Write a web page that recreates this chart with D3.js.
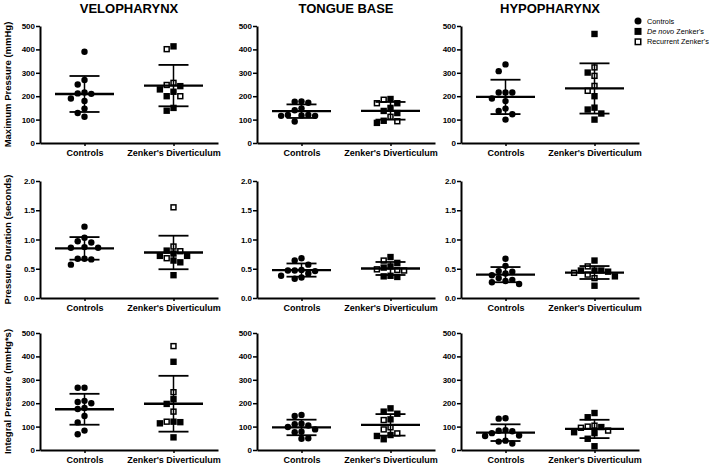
<!DOCTYPE html>
<html>
<head>
<meta charset="utf-8">
<script src="https://cdn.jsdelivr.net/npm/d3@7"></script>
<style>
body { margin: 0; background: #fff; }
svg { display: block; font-family: "Liberation Sans", Arial, sans-serif; }
</style>
</head>
<body>
<svg id="svg"></svg>
<script>
const regions = ["VELOPHARYNX", "TONGUE BASE", "HYPOPHARYNX"];
const measures = ["Maximum Pressure (mmHg)", "Pressure Duration (seconds)", "Integral Pressure (mmHg*s)"];
const groups = ["Controls", "Zenker's Diverticulum"];
const yMaxima = [500, 2, 500];
const yTicks = [
    [0, 100, 200, 300, 400, 500],
    [0, 0.5, 1, 1.5, 2],
    [0, 100, 200, 300, 400, 500]
];

// one list per region (velo, tongue base, hypo)
const maxControls = [
    [390, 269, 250, 216, 212, 210, 190, 180, 147, 128, 112],
    [178, 176, 172, 148, 140, 120, 118, 116, 116, 120, 92],
    [336, 307, 216, 216, 216, 190, 179, 147, 137, 123, 100]
];
const maxDeNovo = [
    [413, 243, 229, 219, 200, 150, 138],
    [188, 170, 150, 137, 128, 95, 86],
    [466, 301, 200, 151, 143, 126, 100]
];
const maxRecurrent = [
    [401, 257, 248, 200],
    [185, 170, 112, 93],
    [323, 287, 244, 223]
];

const durControls = [
    [1.22, 1.03, 0.97, 0.95, 0.87, 0.86, 0.86, 0.67, 0.66, 0.67, 0.57],
    [0.68, 0.64, 0.57, 0.48, 0.47, 0.47, 0.46, 0.42, 0.38, 0.35, 0.33],
    [0.67, 0.55, 0.46, 0.45, 0.42, 0.39, 0.34, 0.31, 0.29, 0.27, 0.24]
];
const durDeNovo = [
    [0.81, 0.76, 0.72, 0.72, 0.64, 0.61, 0.39],
    [0.70, 0.60, 0.54, 0.52, 0.38, 0.37, 0.36],
    [0.64, 0.47, 0.47, 0.47, 0.45, 0.37, 0.21]
];
const durRecurrent = [
    [1.55, 0.88, 0.80, 0.68],
    [0.64, 0.49, 0.48, 0.47],
    [0.54, 0.43, 0.40, 0.34]
];

const intControls = [
    [266, 266, 210, 205, 200, 180, 175, 145, 118, 83, 67],
    [150, 145, 112, 110, 105, 98, 88, 78, 76, 50, 48],
    [136, 134, 85, 82, 80, 72, 62, 60, 40, 36, 28]
];
const intDeNovo = [
    [377, 217, 197, 121, 119, 114, 54],
    [178, 164, 155, 131, 64, 60, 46],
    [158, 140, 98, 76, 72, 48, 16]
];
const intRecurrent = [
    [444, 247, 164, 121],
    [128, 97, 88, 71],
    [104, 100, 95, 83]
];

const controlsByMeasure = [maxControls, durControls, intControls];
const deNovoByMeasure = [maxDeNovo, durDeNovo, intDeNovo];
const recurrentByMeasure = [maxRecurrent, durRecurrent, intRecurrent];

const width = 709;
const height = 464;
const panelLeft = [40, 257, 461];
const panelWidth = 178;
const rowTop = [26, 181, 333];
const rowHeight = 117;
const markerSize = 6.4;
const spacing = 6.8;

let svg = d3.select("#svg").attr("width", width).attr("height", height);

// simple swarm: points that would overlap are pushed left/right of the centre
function swarm(items, y) {
    let placed = [];
    items.slice().sort((a, b) => b.v - a.v).forEach(d => {
        d.py = y(d.v);
        for (let k = 0; k < 30; k++) {
            let off = k === 0 ? 0 : (k % 2 ? -1 : 1) * Math.ceil(k / 2) * spacing;
            if (placed.every(p => Math.hypot(p.dx - off, p.py - d.py) >= spacing - 0.01)) {
                d.dx = off;
                placed.push(d);
                break;
            }
        }
    });
    return items;
}

function drawMarker(g, kind, x, y, s) {
    if (kind === "control") {
        g.append("circle").attr("cx", x).attr("cy", y).attr("r", s / 2).attr("fill", "#000");
    } else if (kind === "denovo") {
        g.append("rect").attr("x", x - s / 2).attr("y", y - s / 2)
            .attr("width", s).attr("height", s).attr("fill", "#000");
    } else {
        g.append("rect").attr("x", x - s / 2 + 0.75).attr("y", y - s / 2 + 0.75)
            .attr("width", s - 1.5).attr("height", s - 1.5)
            .attr("fill", "#fff").attr("stroke", "#000").attr("stroke-width", 1.5);
    }
}

function drawPanel(r, c) {
    let chart = svg.append("g")
        .attr("transform", `translate(${panelLeft[c]},${rowTop[r]})`);

    let xScale = d3.scalePoint().domain(groups).range([0, panelWidth]).padding(0.5);
    let yScale = d3.scaleLinear().domain([0, yMaxima[r]]).range([rowHeight, 0]);

    let fmt = r === 1 ? d3.format(".1f") : d3.format("d");

    let yAxis = chart.append("g")
        .call(d3.axisLeft(yScale).tickValues(yTicks[r]).tickFormat(fmt).tickSize(4).tickSizeOuter(0).tickPadding(1));
    let xAxis = chart.append("g")
        .attr("transform", `translate(0,${rowHeight})`)
        .call(d3.axisBottom(xScale).tickSize(3).tickSizeOuter(0).tickPadding(4));

    yAxis.selectAll("text").style("font-size", "8px").style("font-weight", "bold").attr("fill", "#000");
    xAxis.selectAll("text").style("font-size", "9px").style("font-weight", "bold").attr("fill", "#000");
    chart.selectAll(".domain").attr("stroke", "#000").attr("stroke-width", 2);
    chart.selectAll(".tick line").attr("stroke", "#000").attr("stroke-width", 1.5);

    let sets = [
        controlsByMeasure[r][c].map(v => ({ v: v, kind: "control" })),
        deNovoByMeasure[r][c].map(v => ({ v: v, kind: "denovo" }))
            .concat(recurrentByMeasure[r][c].map(v => ({ v: v, kind: "recurrent" })))
    ];

    sets.forEach((items, gi) => {
        let cx = xScale(groups[gi]);
        swarm(items, yScale);
        items.forEach(d => drawMarker(chart, d.kind, cx + d.dx, d.py, markerSize));

        let vals = items.map(d => d.v);
        let m = d3.mean(vals);
        let sd = d3.deviation(vals);

        chart.append("line")
            .attr("x1", cx).attr("x2", cx)
            .attr("y1", yScale(m - sd)).attr("y2", yScale(m + sd))
            .attr("stroke", "#000").attr("stroke-width", 1.5);
        [m - sd, m + sd].forEach(v => {
            chart.append("line")
                .attr("x1", cx - 15).attr("x2", cx + 15)
                .attr("y1", yScale(v)).attr("y2", yScale(v))
                .attr("stroke", "#000").attr("stroke-width", 1.8);
        });
        chart.append("line")
            .attr("x1", cx - 29.5).attr("x2", cx + 29.5)
            .attr("y1", yScale(m)).attr("y2", yScale(m))
            .attr("stroke", "#000").attr("stroke-width", 2.3);
    });

    if (r === 0) {
        svg.append("text")
            .attr("x", panelLeft[c] + panelWidth / 2)
            .attr("y", 12.5)
            .attr("text-anchor", "middle")
            .style("font-size", "13px")
            .style("font-weight", "bold")
            .text(regions[c]);
    }
    if (c === 0) {
        svg.append("text")
            .attr("transform", `translate(10.5,${rowTop[r] + rowHeight / 2}) rotate(-90)`)
            .attr("text-anchor", "middle")
            .style("font-size", "9.5px")
            .style("font-weight", "bold")
            .text(measures[r]);
    }
}

for (let r = 0; r < 3; r++) {
    for (let c = 0; c < 3; c++) {
        drawPanel(r, c);
    }
}

// legend
let legend = svg.append("g").attr("transform", "translate(638,21)");
let legendItems = [
    { kind: "control", label: ["", "Controls"] },
    { kind: "denovo", label: ["De novo", " Zenker's"] },
    { kind: "recurrent", label: ["", "Recurrent Zenker's"] }
];
legendItems.forEach((d, i) => {
    let yy = i * 10.4;
    drawMarker(legend, d.kind, 0, yy, 7);
    let t = legend.append("text")
        .attr("x", 9).attr("y", yy + 2.6)
        .style("font-size", "7.3px");
    if (d.label[0]) t.append("tspan").style("font-style", "italic").text(d.label[0]);
    t.append("tspan").text(d.label[1]);
});
</script>
</body>
</html>
